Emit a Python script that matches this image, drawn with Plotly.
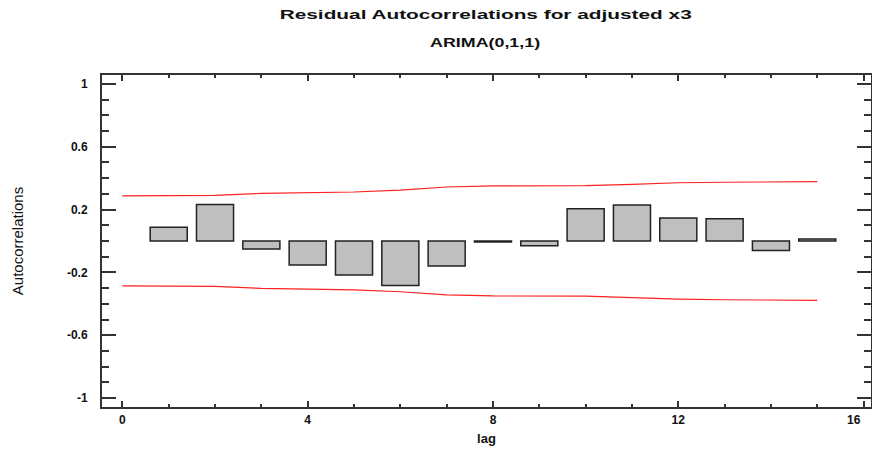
import plotly.graph_objects as go

# ---- data ----
lags = list(range(1, 16))
acf = [0.087, 0.233, -0.051, -0.153, -0.217, -0.283, -0.159, -0.006,
       -0.030, 0.206, 0.229, 0.146, 0.142, -0.060, 0.013]
limit_lags = list(range(0, 16))
upper_limit = [0.287, 0.287, 0.290, 0.303, 0.306, 0.312, 0.324, 0.344,
               0.351, 0.351, 0.352, 0.361, 0.371, 0.374, 0.377, 0.378]
lower_limit = [-0.286, -0.286, -0.289, -0.302, -0.305, -0.311, -0.323, -0.343,
               -0.350, -0.350, -0.351, -0.360, -0.370, -0.374, -0.377, -0.378]
x_ticks = [0, 4, 8, 12, 16]
x_tick_text = ["0", "4", "8", "12", "16"]
y_ticks = [-1, -0.6, -0.2, 0.2, 0.6, 1]
y_tick_text = ["-1", "-0.6", "-0.2", "0.2", "0.6", "1"]

title_main = "Residual Autocorrelations for adjusted x3"
title_sub = "ARIMA(0,1,1)"

# body margin is removed in post_script, so the figure fills the window from (0, 0)
W, H = 872, 455
ML, MR, MT, MB = 102, 1, 75, 48

bold = dict(family="Liberation Sans, Arial, sans-serif", size=12, color="#111111", weight="bold")
axc = "#333333"

fig = go.Figure()
fig.add_trace(go.Bar(x=lags, y=acf, width=0.8,
                     marker=dict(color="#bfbfbf", line=dict(color="#222222", width=1.5)),
                     showlegend=False, hoverinfo="x+y"))
fig.add_trace(go.Scatter(x=limit_lags, y=upper_limit, mode="lines",
                         line=dict(color="#ff2020", width=1.2), showlegend=False))
fig.add_trace(go.Scatter(x=limit_lags, y=lower_limit, mode="lines",
                         line=dict(color="#ff2020", width=1.2), showlegend=False))

# last tick label is drawn as an annotation so it can sit inside the right edge
shown_text = x_tick_text[:-1] + [""]

fig.update_layout(
    width=W, height=H,
    margin=dict(l=ML, r=MR, t=MT, b=MB, autoexpand=False),
    paper_bgcolor="white", plot_bgcolor="white",
    xaxis=dict(range=[-0.44, 16.16], tickmode="array", tickvals=x_ticks, ticktext=shown_text,
               ticks="inside", ticklen=6, tickwidth=1.5, tickcolor=axc,
               showline=True, linecolor=axc, linewidth=2, mirror="allticks",
               showgrid=False, zeroline=False,
               minor=dict(ticks="inside", tickmode="linear", tick0=0, dtick=1,
                          ticklen=3, tickwidth=1.5, tickcolor=axc, showgrid=False),
               tickfont=bold, ticklabelstandoff=1,
               title=dict(text="lag", font=dict(family="Liberation Sans, Arial, sans-serif",
                                               size=13, color="#111111", weight="bold"),
                          standoff=7)),
    yaxis=dict(range=[-1.057, 1.057], tickmode="array", tickvals=y_ticks, ticktext=y_tick_text,
               ticks="inside", ticklen=14, tickwidth=1.5, tickcolor=axc,
               showline=True, linecolor=axc, linewidth=2, mirror="ticks",
               showgrid=False, zeroline=False,
               minor=dict(ticks="inside", tickmode="linear", tick0=0, dtick=0.1,
                          ticklen=7, tickwidth=1.5, tickcolor=axc, showgrid=False),
               tickfont=bold, ticklabelstandoff=10,
               title=dict(text="Autocorrelations",
                          font=dict(family="Liberation Sans Narrow, Liberation Sans, Arial, sans-serif",
                                    size=15, color="#111111"),
                          standoff=40)),
)

plot_w = W - ML - MR
plot_h = H - MT - MB
fig.add_annotation(text=x_tick_text[-1], xref="x", yref="paper", x=x_ticks[-1],
                   y=-(420 - (H - MB)) / plot_h, showarrow=False,
                   xanchor="right", yanchor="middle", xshift=-1, font=bold)

cx = (485 - ML) / plot_w
fig.add_annotation(text=title_main, xref="paper", yref="paper", x=cx,
                   y=1 + (MT - 15) / plot_h,
                   showarrow=False, xanchor="center", yanchor="middle",
                   font=dict(family="Liberation Sans, Arial, sans-serif", size=13,
                             color="#111111", weight="bold"))
fig.add_annotation(text=title_sub, xref="paper", yref="paper", x=cx,
                   y=1 + (MT - 42) / plot_h,
                   showarrow=False, xanchor="center", yanchor="middle",
                   font=dict(family="Liberation Sans, Arial, sans-serif", size=13,
                             color="#111111", weight="bold"))

# remove the page margin and widen the titles as in the reference
post_js = """
(function(){
  document.documentElement.style.margin = '0';
  document.body.style.margin = '0';
  document.body.style.overflow = 'hidden';
  var widths = {'%s': 412, '%s': 110};
  document.querySelectorAll('text.annotation-text').forEach(function(t){
    var w = widths[t.textContent];
    if (w) { t.setAttribute('textLength', w); t.setAttribute('lengthAdjust', 'spacingAndGlyphs'); }
  });
})();
""" % (title_main, title_sub)

fig.write_html("out.html", post_script=post_js,
               config={"displayModeBar": False, "staticPlot": False})
